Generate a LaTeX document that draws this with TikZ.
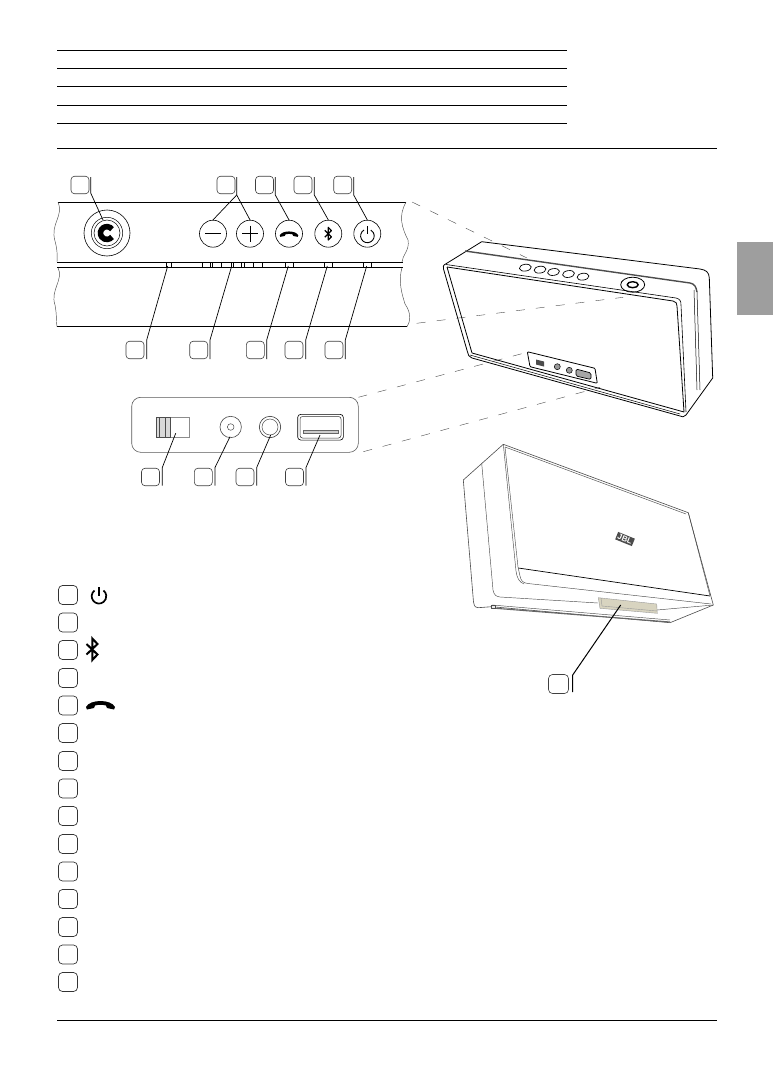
\documentclass[tikz,border=0pt]{standalone}
\usepackage{fontspec}
\setmainfont{Liberation Sans}
\definecolor{tan}{RGB}{216,212,192}
\newcommand{\handset}{(-14.5,2) .. controls (-10.5,-6) and (10.5,-6) .. (14.5,2) -- (13.5,4.5) -- (6.5,3) -- (5.5,0.5) .. controls (1.5,-0.5) and (-1.5,-0.5) .. (-5.5,0.5) -- (-6.5,3) -- (-13.5,4.5) -- cycle}
\begin{document}
\begin{tikzpicture}[x=1pt,y=-1pt,
  numbox/.style={draw=black!75,line width=0.6pt,rounded corners=3.5pt,minimum width=18pt,minimum height=17.5pt,inner sep=0pt,fill=white},
  legbox/.style={draw=black!80,line width=0.7pt,rounded corners=4pt,minimum width=19pt,minimum height=19pt,inner sep=0pt},
  leader/.style={draw=black,line width=0.7pt},
  btn/.style={circle,draw=black,line width=0.6pt,minimum size=27pt,inner sep=0pt},
  rule/.style={draw=black,line width=0.8pt},
  dashln/.style={draw=black!70,line width=0.4pt,dash pattern=on 9pt off 11pt},
  thin/.style={draw=black,line width=0.6pt},
  sp/.style={draw=black,line width=0.8pt,line join=round},
  sp2/.style={draw=black!70,line width=0.45pt,line join=round}]
\useasboundingbox (0,0) rectangle (773,1089);
\fill[white] (0,0) rectangle (773,1089);
% header rules
\foreach \y in {50,68,86,105,123} \draw[rule] (57,\y) -- (567,\y);
\draw[rule] (57,148) -- (717,148);
\draw[rule] (57,1020) -- (717,1020);
\fill[black!38] (737,241.7) rectangle (773,315);
% top panel
\draw[thin] (58,202.3) -- (406,202.3);
\draw[thin] (57,326.7) -- (407,326.7);
\draw[sp2] (58,202.3) .. controls (64,216) and (50,224) .. (55,241) .. controls (58,252) and (57,258) .. (57,262);
\draw[sp2] (58,267.5) .. controls (64,280) and (50,290) .. (55,305) .. controls (57,315) and (56,322) .. (57,326.7);
\draw[sp2] (406,202.3) .. controls (398,216) and (402,228) .. (408,240) .. controls (410,250) and (402,256) .. (402,262);
\draw[sp2] (402,267.5) .. controls (398,282) and (402,294) .. (405,304) .. controls (412,314) and (410,322) .. (407,326.7);
\draw[thin] (57,262.3) -- (403,262.3);
\draw[thin] (57,267.3) -- (403,267.3);
\foreach \x in {166.7,171.7,202.3,210.7,212.3,221.7,231.7,233.3,241.7,244,253.3,262.3,285.7,293.3,324.3,332.7,363.7,371.7}
  \draw[line width=0.5pt] (\x,262.3) -- (\x,267.3);
% big C button
\node[circle,draw=black,line width=0.6pt,minimum size=46pt,inner sep=0pt] (cbtn) at (107,233) {};
\draw[line width=0.5pt] (cbtn.center) circle (15.7);
\draw[line width=0.5pt] (cbtn.center) circle (13);
\draw[line width=5.6pt] (112,229.2) arc[start angle=-37,end angle=-323,radius=6.4];
% buttons
\node[btn] (bminus) at (213,233.7) {};
\node[btn] (bplus) at (250,233.7) {};
\node[btn] (bphone) at (289,233.7) {};
\node[btn] (bbt) at (328.3,233.7) {};
\node[btn] (bpow) at (367.3,233.7) {};
\draw[line width=0.7pt] (205,233.7) -- (221,233.7);
\draw[line width=0.7pt] (242,233.7) -- (258,233.7) (250,225.7) -- (250,241.7);
\begin{scope}[shift={(289,234)},scale=0.64]
\fill \handset;
\end{scope}
\draw[line width=1.2pt,line join=round] (324.8,230.3) -- (331.4,236.8) -- (328.3,240) -- (328.3,227.4) -- (331.4,230.6) -- (324.8,237.1);
\draw[line width=0.9pt] (364,230) arc[start angle=240,end angle=-60,radius=6.8];
\draw[line width=0.9pt] (367.3,226) -- (367.3,233.5);
% top number boxes
\node[numbox] (t1) at (80,185) {};
\node[numbox] (t2) at (226,185) {};
\node[numbox] (t3) at (264.5,185) {};
\node[numbox] (t4) at (303,185) {};
\node[numbox] (t5) at (342.7,185) {};
\coordinate (t1a) at (90.7,177); \coordinate (t1b) at (90.7,193); \coordinate (t1c) at (103,220);
\draw[leader] (t1a) -- (t1b) -- (t1c);
\coordinate (t2a) at (236.7,177); \coordinate (t2b) at (236.7,195);
\draw[leader] (t2a) -- (t2b) -- (bminus.north);
\draw[leader] (t2b) -- (bplus.north);
\coordinate (t3a) at (275.3,177); \coordinate (t3b) at (275.3,195);
\draw[leader] (t3a) -- (t3b) -- (bphone.north);
\coordinate (t4a) at (314.3,177); \coordinate (t4b) at (314.3,195);
\draw[leader] (t4a) -- (t4b) -- (bbt.north);
\coordinate (t5a) at (353.7,177); \coordinate (t5b) at (353.7,195);
\draw[leader] (t5a) -- (t5b) -- (bpow.north);
% lower number boxes
\node[numbox] (l1) at (135,350) {};
\node[numbox] (l2) at (198.7,350) {};
\node[numbox] (l3) at (255.3,350) {};
\node[numbox] (l4) at (294,350) {};
\node[numbox] (l5) at (334,350) {};
\foreach \n/\xa/\xb in {l1/146.7/167.7,l2/210/231.7,l3/266.7/288.3,l4/305.7/327.3,l5/345.3/366.7}{
  \coordinate (\n a) at (\xa,359);
  \coordinate (\n b) at (\xa,340);
  \coordinate (\n c) at (\xb,266);
  \draw[leader] (\n a) -- (\n b) -- (\n c);
}
% port panel
\draw[draw=black!65,line width=0.6pt,rounded corners=9pt] (131.7,397.3) rectangle (358.3,452.3);
\node[draw=black!45,line width=0.6pt,minimum width=32.3pt,minimum height=20pt,inner sep=0pt] (sw) at (172.8,427.3) {};
\fill[black!15] (156.7,417.3) rectangle (170,437.3);
\draw[line width=0.5pt,black!70] (156.7,417.3) rectangle (170,437.3) (159,417.3) -- (159,437.3) (165,417.3) -- (165,437.3);
\node[circle,draw=black!70,line width=0.6pt,minimum size=21.4pt,inner sep=0pt] (j1) at (230.7,427) {};
\draw[black!70,line width=0.5pt] (j1.center) circle (3.3);
\node[circle,draw=black!80,line width=0.6pt,minimum size=21.4pt,inner sep=0pt] (j2) at (270,427) {};
\draw[black!70,line width=0.5pt] (j2.center) circle (8);
\node[draw=black,line width=0.6pt,rounded corners=3pt,minimum width=45.6pt,minimum height=25.7pt,inner sep=0pt] (usb) at (320.5,427.2) {};
\draw[black!80,line width=0.5pt,rounded corners=2.5pt] (300,416.5) rectangle (341,438);
\draw[black!60,fill=black!20,line width=0.5pt] (303.3,430) rectangle (338.3,433.3);
\node[numbox] (p1) at (150.5,477) {};
\node[numbox] (p2) at (203.3,477) {};
\node[numbox] (p3) at (245,477) {};
\node[numbox] (p4) at (294.5,477) {};
\foreach \n/\xa/\xb/\yb in {p1/162.3/175.7/433.3,p2/215/230/436.7,p3/256.7/270.7/435,p4/306/320/435}{
  \coordinate (\n a) at (\xa,485.7);
  \coordinate (\n b) at (\xa,467.5);
  \coordinate (\n c) at (\xb,\yb);
  \draw[leader] (\n a) -- (\n b) -- (\n c);
}
% dashed zoom lines
\coordinate (d1a) at (412,202); \coordinate (d1b) at (527,258);
\coordinate (d2a) at (416.7,323.3); \coordinate (d2b) at (623,297.3);
\coordinate (d3a) at (358.3,397.3); \coordinate (d3b) at (523.3,353.3);
\coordinate (d4a) at (363.3,451.7); \coordinate (d4b) at (600,387.3);
\draw[dashln] (d1a) -- (d1b);
\draw[dashln] (d2a) -- (d2b);
\draw[dashln] (d3a) -- (d3b);
\draw[dashln] (d4a) -- (d4b);
% speaker 1
\draw[sp] (444,265) -- (481.7,241.7) -- (700,269) .. controls (706,270) and (709,272) .. (709.3,278) -- (712.7,378) -- (686,415) .. controls (684,417.5) and (682,417) .. (680,416) -- (472,358) .. controls (469,357) and (468,355) .. (467.5,352) -- (443.5,269) .. controls (443,266) and (443.5,266) .. (444,265);
\draw[sp,line width=0.6pt] (446,264.5) -- (676,298) .. controls (680,299) and (681,301) .. (681,305) -- (686,412);
\draw[sp] (447,267) -- (673,301) .. controls (676,302) and (677,303) .. (677,306) -- (684,412) -- (472,353) -- (447,267);
\draw[sp,line width=0.5pt] (470,355) -- (680,414);
\draw[sp,draw=black!70,line width=1.4pt] (465,251) -- (690,283) .. controls (695,284) and (696,287) .. (697,292);
\draw[sp,line width=0.5pt] (697,292) -- (700,390);
\draw[sp,line width=0.5pt] (694,290) -- (697,390);
% small buttons
\foreach \x/\y in {525.3/267.7,540/269.7,553.5/272,568.5/274,583/276.7}
  \draw[sp,line width=0.7pt,rotate around={8:(\x,\y)}] (\x,\y) ellipse[x radius=6,y radius=3.4];
\draw[sp] (632.7,284.7) ellipse[x radius=12,y radius=7.5];
\draw[sp,line width=1.4pt] (632.7,284.7) ellipse[x radius=5.5,y radius=3];
% port plate
\draw[sp,rounded corners=1pt] (527.3,351.7) -- (595,368.3) -- (597.3,383.3) -- (530,366.7) -- cycle;
\fill[black!70] (536,359.5) -- (544,361.5) -- (544,366.5) -- (536,364.5) -- cycle;
\draw[sp,fill=black!40,line width=0.5pt] (557.3,366.7) circle (3);
\draw[sp,fill=black!40,line width=0.5pt] (569.3,370.3) circle (3);
\draw[sp,line width=0.7pt,fill=black!35,rounded corners=1.5pt] (576,369) -- (591,373) -- (591,379.5) -- (576,376) -- cycle;
% speaker 2
\draw[sp2,line width=0.6pt] (503.3,444.3) -- (688.3,512.7) -- (713.3,605) -- (670,622.7) -- (491.7,606.7) -- (478,607.7) .. controls (474,607) and (474,605) .. (473.5,602) -- (463.3,480) -- (503.3,444.3);
\draw[sp2] (505,447) -- (686,514);
\draw[sp2] (481.7,463.3) -- (493,590) .. controls (494,595) and (496,596.5) .. (500,597) -- (598,603);
\draw[sp2] (657,610) -- (713.3,605);
\draw[sp2] (505,447) -- (518,567) -- (520,576) .. controls (521,581) and (523,583) .. (528,583.5) -- (711,604);
\draw[sp2] (503.3,444.3) -- (516,571) .. controls (517,578) and (519,582) .. (524,584);
\draw[draw=black,line width=0.7pt] (518.3,568) -- (710,596);
\draw[sp2] (688.3,512.7) -- (710,596);
\draw[draw=black!60,line width=1.1pt] (491.7,608) -- (670,622);
\draw[sp2] (492,605) -- (670,620);
\draw[fill=black!8,sp2] (491.5,605) rectangle (495,608);
\fill[tan] (598.3,597.7) -- (656.7,604) -- (657.3,613.3) -- (600,608.3) -- cycle;
\draw[black!40,line width=0.4pt] (598.3,597.7) -- (656.7,604) -- (657.3,613.3) -- (600,608.3) -- cycle (601,598) -- (602,606) -- (657,611);
\node[fill=black!70,text=white,font=\bfseries\fontsize{8}{8}\selectfont\addfontfeatures{Kerning=Off},inner sep=0.5pt,rotate=-22,minimum width=18pt,minimum height=8pt] (jbl) at (625,539) {JBL};
\node[numbox,minimum width=20pt,minimum height=19pt,rounded corners=4pt] (s1) at (558.5,684) {};
\coordinate (s1a) at (572.7,692); \coordinate (s1b) at (572.7,675); \coordinate (s1c) at (620.7,605);
\draw[leader,line width=1pt] (s1a) -- (s1b) -- (s1c);
% legend
\foreach \i/\y in {1/595,2/622.5,3/650,4/678,5/705.5,6/733,7/761,8/788.5,9/816,10/844,11/871.5,12/899,13/927,14/954.5,15/982}
  \node[legbox] (k\i) at (68,\y) {};
\draw[line width=1.7pt] (94.5,590.5) arc[start angle=232,end angle=-52,radius=7.3];
\draw[line width=1.9pt] (98.7,587) -- (98.7,596);
\draw[line width=2pt,line join=miter] (86.5,644) -- (97.5,654.5) -- (92.3,660) -- (92.3,638.5) -- (97.5,644) -- (86.5,654.5);
\begin{scope}[shift={(100.5,705)}]
\fill \handset;
\end{scope}
\end{tikzpicture}
\end{document}
